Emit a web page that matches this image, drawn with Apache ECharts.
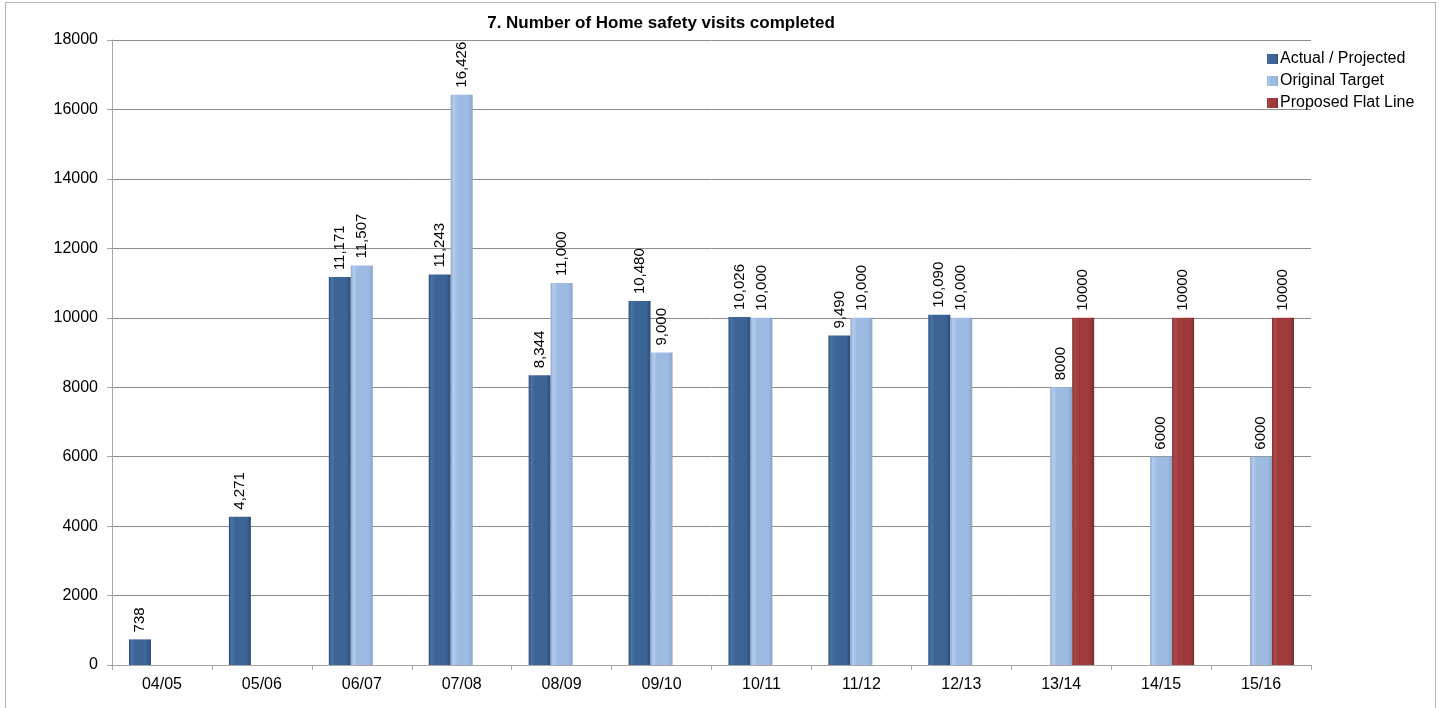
<!DOCTYPE html>
<html>
<head>
<meta charset="utf-8">
<title>Home safety visits</title>
<script src="https://cdn.jsdelivr.net/npm/echarts@6/dist/echarts.min.js"></script>
<style>
  html, body { margin: 0; padding: 0; background: #fff; }
  #wrap { position: relative; width: 1439px; height: 708px; overflow: hidden; }
  #chart { width: 1439px; height: 708px; }
  #frame { position: absolute; left: 5px; top: 2px; width: 1429px; height: 730px;
           border: 1px solid #b4b4b4; pointer-events: none; }
</style>
</head>
<body>
<div id="wrap">
  <div id="chart"></div>
  <div id="frame"></div>
</div>
<script>
// data
const years = ['04/05', '05/06', '06/07', '07/08', '08/09', '09/10', '10/11', '11/12', '12/13', '13/14', '14/15', '15/16'];
const actual = [738, 4271, 11171, 11243, 8344, 10480, 10026, 9490, 10090, null, null, null];
const originalTarget = [null, null, 11507, 16426, 11000, 9000, 10000, 10000, 10000, 8000, 6000, 6000];
const proposedFlat = [null, null, null, null, null, null, null, null, null, 10000, 10000, 10000];
// years whose labels are shown without a thousands separator
const plainYears = ['13/14', '14/15', '15/16'];

const FONT = 'Liberation Sans, Arial, sans-serif';

// cylinder-ish horizontal gradient
function barFill(edge, body, light) {
  return {
    type: 'linear', x: 0, y: 0, x2: 1, y2: 0,
    colorStops: [
      { offset: 0, color: edge },
      { offset: 0.12, color: light },
      { offset: 0.3, color: body },
      { offset: 0.8, color: body },
      { offset: 1, color: edge }
    ]
  };
}

function fmtLabel(p) {
  if (plainYears.indexOf(p.name) >= 0) return String(p.value);
  return Number(p.value).toLocaleString('en-US');
}

const labelStyle = {
  show: true,
  position: 'top',
  rotate: 90,
  align: 'left',
  verticalAlign: 'middle',
  distance: 7,
  color: '#000',
  fontFamily: FONT,
  fontSize: 15,
  formatter: fmtLabel
};

const chart = echarts.init(document.getElementById('chart'));
const option = {
  animation: false,
  backgroundColor: '#fff',
  title: {
    text: '7. Number of Home safety visits completed',
    left: 656,
    textAlign: 'center',
    top: 10,
    textStyle: { fontFamily: FONT, fontSize: 17, fontWeight: 'bold', color: '#000' }
  },
  legend: {
    orient: 'vertical',
    left: 1262,
    top: 46,
    itemWidth: 11,
    itemHeight: 10,
    itemGap: 6,
    icon: 'rect',
    textStyle: { fontFamily: FONT, fontSize: 16, color: '#000', padding: [0, 0, 0, -3] },
    data: ['Actual / Projected', 'Original Target', 'Proposed Flat Line']
  },
  grid: { left: 112, right: 128, top: 40, bottom: 43 },
  xAxis: {
    type: 'category',
    data: years,
    axisLine: { lineStyle: { color: '#a6a6a6' } },
    axisTick: { show: true, length: 5, lineStyle: { color: '#a6a6a6' } },
    axisLabel: { color: '#000', fontFamily: FONT, fontSize: 16, margin: 12 }
  },
  yAxis: {
    type: 'value',
    min: 0,
    max: 18000,
    interval: 2000,
    axisLine: { show: true, lineStyle: { color: '#a6a6a6' } },
    axisTick: { show: true, length: 5, lineStyle: { color: '#a6a6a6' } },
    axisLabel: { color: '#000', fontFamily: FONT, fontSize: 16, margin: 14, formatter: v => String(v) },
    splitLine: { lineStyle: { color: '#8c8c8c' } }
  },
  series: [
    {
      name: 'Actual / Projected',
      type: 'bar',
      data: actual,
      barGap: '0%',
      barCategoryGap: '34%',
      itemStyle: { color: barFill('#2c4d78', '#3c6495', '#4a73a6') },
      label: labelStyle
    },
    {
      name: 'Original Target',
      type: 'bar',
      data: originalTarget,
      itemStyle: { color: barFill('#8aa5cc', '#9dbbe2', '#b4cdee') },
      label: labelStyle
    },
    {
      name: 'Proposed Flat Line',
      type: 'bar',
      data: proposedFlat,
      itemStyle: { color: barFill('#7e2d2d', '#9e3a3a', '#b04848') },
      label: labelStyle
    }
  ]
};
chart.setOption(option);
</script>
</body>
</html>
